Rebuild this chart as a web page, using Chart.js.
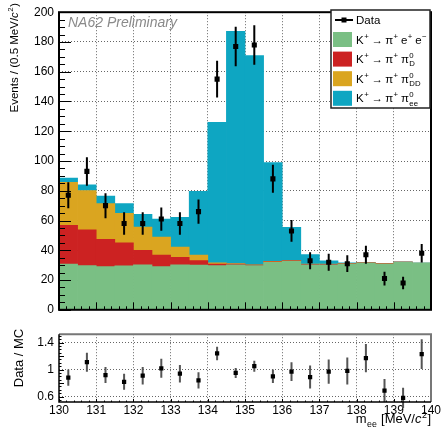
<!DOCTYPE html>
<html>
<head>
<meta charset="utf-8">
<script src="https://cdn.jsdelivr.net/npm/chart.js@4/dist/chart.umd.min.js"></script>
<style>
  html, body { margin: 0; padding: 0; background: #fff; }
  #wrap { position: relative; width: 443px; height: 434px; }
  #main { position: absolute; left: 0; top: 0; }
  #ratio { position: absolute; left: 0; top: 322px; }
</style>
</head>
<body>
<div id="wrap">
  <canvas id="main" width="443" height="322"></canvas>
  <canvas id="ratio" width="443" height="112"></canvas>
</div>
<script>
// m_ee bin centres (0.5 MeV/c^2 bins from 130 to 140)
const binCenters = [130.25, 130.75, 131.25, 131.75, 132.25, 132.75, 133.25, 133.75, 134.25, 134.75,
                    135.25, 135.75, 136.25, 136.75, 137.25, 137.75, 138.25, 138.75, 139.25, 139.75];

// MC components (stacked, bottom to top)
const mcPiee   = [30.8, 29.7, 29.0, 29.5, 30.3, 29.0, 30.3, 30.0, 29.7, 30.3,
                  29.7, 31.9, 32.8, 30.3, 30.3, 30.8, 31.6, 30.8, 31.9, 31.2];
const mcPi0D   = [25.9, 24.1, 18.3, 15.5, 9.7, 7.7, 4.9, 3.0, 1.1, 0.4,
                  0.3, 0.3, 0.2, 0.2, 0.2, 0.1, 0.1, 0.1, 0.1, 0.1];
const mcPi0DD  = [29.0, 26.4, 24.1, 19.8, 15.6, 12.1, 7.0, 3.7, 0.8, 0.4,
                  0.3, 0.3, 0.2, 0.2, 0.2, 0.1, 0.1, 0.1, 0.1, 0.1];
const mcPi0ee  = [2.9, 3.8, 5.1, 6.6, 8.6, 12.1, 20.0, 42.9, 94.4, 156.0,
                  140.5, 66.4, 22.2, 6.4, 2.2, 0.5, 0.1, 0.1, 0.1, 0.1];

// data points and errors
const dataCounts = [77, 93, 70, 58, 58, 61, 58, 66, 155, 177, 178, 88, 53, 33, 32, 31, 37, 21, 18, 38];
const dataErrors = [8.8, 9.6, 8.4, 7.6, 7.6, 7.8, 7.6, 8.1, 12.4, 13.3, 13.3, 9.4, 7.3, 5.7, 5.7, 5.6, 6.1, 4.6, 4.2, 6.2];

// Data / MC ratio and errors
const ratioValues = [0.88, 1.11, 0.92, 0.82, 0.91, 1.02, 0.94, 0.84, 1.24, 0.95,
                     1.05, 0.90, 0.97, 0.89, 0.97, 0.98, 1.17, 0.69, 0.58, 1.23];
const ratioErrors = [0.12, 0.14, 0.12, 0.12, 0.13, 0.14, 0.13, 0.12, 0.10, 0.075,
                     0.08, 0.10, 0.14, 0.17, 0.18, 0.20, 0.21, 0.17, 0.15, 0.22];

const ratioTicks = [0.6, 0.8, 1, 1.2, 1.4];

const FONT = '"Liberation Sans", Arial, Helvetica, sans-serif';
const gridCol = 'rgba(0,0,0,0.6)';
const colGreen = '#7abf84', colRed = '#cc2222', colOrange = '#daa520', colBlue = '#0ea6c2';

// draw text with super/subscripts; parts are strings or {sup, sub} / {it}
function drawRich(ctx, x, y, parts, size, dry) {
  let cx = x;
  const small = size * 0.68;
  ctx.textBaseline = 'alphabetic';
  ctx.textAlign = 'left';
  for (const p of parts) {
    if (typeof p === 'string') {
      ctx.font = size + 'px ' + FONT;
      if (!dry) ctx.fillText(p, cx, y);
      cx += ctx.measureText(p).width;
    } else if (p.it) {
      ctx.font = 'italic ' + size + 'px ' + FONT;
      if (!dry) ctx.fillText(p.it, cx, y);
      cx += ctx.measureText(p.it).width;
    } else {
      ctx.font = small + 'px ' + FONT;
      let w = 0;
      if (p.sup) {
        if (!dry) ctx.fillText(p.sup, cx + 0.5, y - size * 0.42);
        w = Math.max(w, ctx.measureText(p.sup).width + 1);
      }
      if (p.sub) {
        if (!dry) ctx.fillText(p.sub, cx + 0.5, y + size * 0.28);
        w = Math.max(w, ctx.measureText(p.sub).width + 1);
      }
      cx += w;
    }
  }
  return cx - x;
}

// ROOT-like inner tick marks
function rootTicks(chart, o) {
  const { ctx, chartArea: a } = chart;
  const ys = chart.scales[o.yId], xs = chart.scales.x;
  ctx.save();
  ctx.strokeStyle = '#000';
  ctx.lineWidth = 1;
  ctx.beginPath();
  const nY = Math.round((o.yEnd - o.yStart) / o.yMinor);
  for (let i = 0; i <= nY; i++) {
    const v = o.yStart + i * o.yMinor;
    const r = v / o.yMajor;
    const major = Math.abs(r - Math.round(r)) < 1e-6;
    const p = Math.round(ys.getPixelForValue(v)) + 0.5;
    if (p < a.top || p > a.bottom + 1) continue;
    ctx.moveTo(a.left, p);
    ctx.lineTo(a.left + (major ? o.yMajLen : o.yMinLen), p);
  }
  const nX = Math.round((xs.max - xs.min) / o.xMinor);
  for (let i = 0; i <= nX; i++) {
    const v = xs.min + i * o.xMinor;
    const major = i % Math.round(1 / o.xMinor) === 0;
    const p = Math.round(xs.getPixelForValue(v)) + 0.5;
    ctx.moveTo(p, a.bottom);
    ctx.lineTo(p, a.bottom - (major ? o.xMajLen : o.xMinLen));
  }
  ctx.stroke();
  ctx.restore();
}

function errorBars(chart, idx, axisId, values, errors, color, width) {
  const { ctx } = chart;
  const meta = chart.getDatasetMeta(idx);
  const ys = chart.scales[axisId];
  ctx.save();
  ctx.strokeStyle = color;
  ctx.lineWidth = width;
  ctx.beginPath();
  meta.data.forEach((pt, i) => {
    ctx.moveTo(pt.x, ys.getPixelForValue(values[i] - errors[i]));
    ctx.lineTo(pt.x, ys.getPixelForValue(values[i] + errors[i]));
  });
  ctx.stroke();
  ctx.restore();
}

const arrow = '\u2009\u2192\u2009\u03c0';
const legendEntries = [
  [colGreen, ['K', { sup: '+' }, arrow, { sup: '+' }, '\u2009e', { sup: '+' }, '\u2009e', { sup: '\u2212' }]],
  [colRed, ['K', { sup: '+' }, arrow, { sup: '+' }, '\u2009\u03c0', { sup: '0', sub: 'D' }]],
  [colOrange, ['K', { sup: '+' }, arrow, { sup: '+' }, '\u2009\u03c0', { sup: '0', sub: 'DD' }]],
  [colBlue, ['K', { sup: '+' }, arrow, { sup: '+' }, '\u2009\u03c0', { sup: '0', sub: 'ee' }]]
];

const mainPlugin = {
  id: 'mainDecor',
  beforeDatasetDraw(chart, args) {
    if (args.index === 4) errorBars(chart, 4, 'yd', dataCounts, dataErrors, '#000', 2);
  },
  afterDraw(chart) {
    const { ctx, chartArea: a } = chart;
    rootTicks(chart, { yId: 'y', yStart: 0, yEnd: 200, yMinor: 5, yMajor: 20, yMajLen: 12, yMinLen: 6,
                       xMinor: 0.2, xMajLen: 7.5, xMinLen: 3.5 });
    ctx.save();
    ctx.strokeStyle = '#000';
    ctx.lineWidth = 2;
    ctx.strokeRect(a.left, a.top, a.right - a.left, a.bottom - a.top);

    // y title
    ctx.fillStyle = '#000';
    ctx.save();
    ctx.translate(18, 3);
    ctx.rotate(-Math.PI / 2);
    const tp = ['Events / (0.5 MeV/', { it: 'c' }, { sup: '2' }, ')'];
    const tw = drawRich(ctx, 0, 0, tp, 11.5, true);
    drawRich(ctx, -tw, 0, tp, 11.5);
    ctx.restore();

    // preliminary label
    ctx.font = 'italic 14px ' + FONT;
    ctx.fillStyle = '#8a8a8a';
    ctx.textAlign = 'left';
    ctx.textBaseline = 'alphabetic';
    ctx.fillText('NA62 Preliminary', 68, 27);

    // legend
    const lx = 331, ly = 10, lw = 99, lh = 98;
    ctx.fillStyle = '#fff';
    ctx.fillRect(lx, ly, lw, lh);
    ctx.strokeStyle = '#222';
    ctx.lineWidth = 1.5;
    ctx.strokeRect(lx, ly, lw, lh);
    // fit the longest entry into the box
    const w12 = drawRich(ctx, 0, 0, legendEntries[0][1], 12, true);
    const fs = Math.min(12, 12 * 71 / w12);
    ctx.fillStyle = '#000';
    ctx.strokeStyle = '#000';
    ctx.lineWidth = 2;
    ctx.beginPath();
    ctx.moveTo(335, 20); ctx.lineTo(353, 20);
    ctx.stroke();
    ctx.fillRect(341.5, 17.5, 5, 5);
    drawRich(ctx, 356, 24.2, ['Data'], 11.5);
    legendEntries.forEach((e, i) => {
      const cy = 39.5 + i * 19.6;
      ctx.fillStyle = e[0];
      ctx.fillRect(333, cy - 7.5, 19, 15);
      ctx.fillStyle = '#000';
      drawRich(ctx, 356, cy + 4, e[1], fs);
    });
    ctx.restore();
  }
};

const ratioPlugin = {
  id: 'ratioDecor',
  beforeDatasetDraw(chart, args) {
    if (args.index === 0) errorBars(chart, 0, 'y', ratioValues, ratioErrors, '#555', 2);
  },
  afterDraw(chart) {
    const { ctx, chartArea: a } = chart;
    rootTicks(chart, { yId: 'y', yStart: 0.55, yEnd: 1.5, yMinor: 0.05, yMajor: 0.2, yMajLen: 5, yMinLen: 2.5,
                       xMinor: 0.2, xMajLen: 3, xMinLen: 1.5 });
    ctx.save();
    ctx.lineWidth = 2;
    ctx.strokeStyle = '#777';
    ctx.beginPath();
    ctx.moveTo(a.left, a.top); ctx.lineTo(a.right, a.top); ctx.lineTo(a.right, a.bottom);
    ctx.stroke();
    ctx.strokeStyle = '#000';
    ctx.lineWidth = 1.5;
    ctx.beginPath();
    ctx.moveTo(a.left, a.top); ctx.lineTo(a.left, a.bottom); ctx.lineTo(a.right, a.bottom);
    ctx.stroke();

    ctx.fillStyle = '#000';
    // y title
    ctx.save();
    ctx.translate(23, 36);
    ctx.rotate(-Math.PI / 2);
    ctx.font = '13px ' + FONT;
    ctx.textAlign = 'center';
    ctx.textBaseline = 'alphabetic';
    ctx.fillText('Data / MC', 0, 0);
    ctx.restore();

    // x title
    const xp = ['m', { sub: 'ee' }, ' [MeV/', { it: 'c' }, { sup: '2' }, ']'];
    const w = drawRich(ctx, 0, 0, xp, 13, true);
    drawRich(ctx, 431 - w, 101, xp, 13);
    ctx.restore();
  }
};

const tickFont = { family: FONT, size: 12 };
const hideEdge = (lo, hi) => c => {
  if (!c.tick) return gridCol;
  const v = c.tick.value;
  return (Math.abs(v - lo) < 1e-6 || Math.abs(v - hi) < 1e-6) ? 'rgba(0,0,0,0)' : gridCol;
};

new Chart(document.getElementById('main').getContext('2d'), {
  type: 'bar',
  data: {
    labels: binCenters,
    datasets: [
      { label: 'K+ -> pi+ e+ e-', data: mcPiee, backgroundColor: colGreen },
      { label: 'K+ -> pi+ pi0_D', data: mcPi0D, backgroundColor: colRed },
      { label: 'K+ -> pi+ pi0_DD', data: mcPi0DD, backgroundColor: colOrange },
      { label: 'K+ -> pi+ pi0_ee', data: mcPi0ee, backgroundColor: colBlue },
      { type: 'scatter', label: 'Data', data: dataCounts, yAxisID: 'yd', showLine: false, order: -1,
        pointStyle: 'rect', pointRadius: 3.6, pointBorderWidth: 0, backgroundColor: '#000', borderColor: '#000' }
    ]
  },
  options: {
    responsive: false,
    animation: false,
    events: [],
    barPercentage: 1,
    categoryPercentage: 1,
    layout: { padding: { left: 0, top: 11, right: 12, bottom: 0 } },
    plugins: { legend: { display: false }, tooltip: { enabled: false } },
    scales: {
      x: {
        type: 'linear', min: 130, max: 140, stacked: true, offset: false,
        ticks: { display: false, stepSize: 1 },
        grid: { color: hideEdge(130, 140), drawTicks: false, lineWidth: 1, offset: false },
        border: { display: false, dash: [1, 2] },
        afterFit: s => { s.height = 9; }
      },
      y: {
        min: 0, max: 200, stacked: true,
        ticks: { stepSize: 20, padding: 5, font: tickFont, color: '#000' },
        grid: { color: hideEdge(0, 200), drawTicks: false, lineWidth: 1 },
        border: { display: false, dash: [1, 2] },
        afterFit: s => { s.width = 59; }
      },
      yd: { display: false, min: 0, max: 200 }
    }
  },
  plugins: [mainPlugin]
});

new Chart(document.getElementById('ratio').getContext('2d'), {
  type: 'scatter',
  data: {
    labels: binCenters,
    datasets: [
      { label: 'Data / MC', data: ratioValues, showLine: false, pointStyle: 'rect', pointRadius: 3,
        pointBorderWidth: 0, backgroundColor: '#000', borderColor: '#000' }
    ]
  },
  options: {
    responsive: false,
    animation: false,
    events: [],
    layout: { padding: { left: 0, top: 8, right: 12, bottom: 0 } },
    plugins: { legend: { display: false }, tooltip: { enabled: false } },
    scales: {
      x: {
        type: 'linear', min: 130, max: 140,
        ticks: { stepSize: 1, padding: 1, font: tickFont, color: '#000', autoSkip: false, maxRotation: 0 },
        grid: { color: hideEdge(130, 140), drawTicks: false, lineWidth: 1 },
        border: { display: false, dash: [1, 2] },
        afterFit: s => { s.height = 32; }
      },
      y: {
        min: 0.52, max: 1.525,
        afterBuildTicks: s => { s.ticks = ratioTicks.map(v => ({ value: v })); },
        ticks: { padding: 5, font: tickFont, color: '#000', callback: v => String(Math.round(v * 10) / 10) },
        grid: { color: gridCol, drawTicks: false, lineWidth: 1 },
        border: { display: false, dash: [1, 2] },
        afterFit: s => { s.width = 59; }
      }
    }
  },
  plugins: [ratioPlugin]
});
</script>
</body>
</html>
